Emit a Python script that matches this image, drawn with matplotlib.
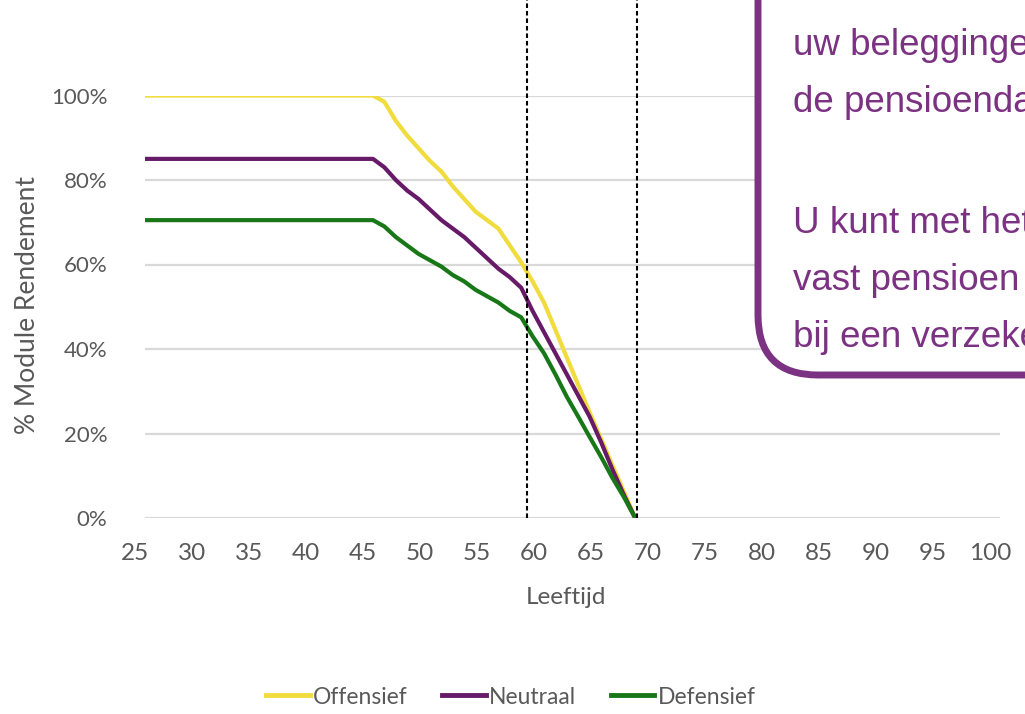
import numpy as np
import matplotlib
matplotlib.use("Agg")
import matplotlib.pyplot as plt
from matplotlib.patches import FancyBboxPatch
from matplotlib.lines import Line2D
import matplotlib.transforms as mtransforms

# Data (age -> % module rendement)
ages = list(range(25, 69))
flat_years = 45 - 25  # 25..44 all at the plateau value

offensief = [100] * flat_years + [100, 98.5, 94, 90.5, 87.5, 84.5, 82, 78.5, 75.5, 72.5, 70.5, 68.5,
                                  64.5, 60.5, 56, 51, 44.5, 38, 31.5, 25, 18.8, 12.5, 6.3, 0]
neutraal = [85] * flat_years + [85, 83, 80, 77.5, 75.5, 73, 70.5, 68.5, 66.5, 64, 61.5, 59,
                                57, 54.5, 49, 44, 39, 34, 29, 24, 18, 11.5, 5.5, 0]
defensief = [70.5] * flat_years + [70.5, 69, 66.5, 64.5, 62.5, 61, 59.5, 57.5, 56, 54, 52.5, 51,
                                   49, 47.5, 43, 39, 34, 28.7, 24, 19.2, 14.5, 9.5, 5, 0]

series_names = ["Offensief", "Neutraal", "Defensief"]
series_colors = ["#f0dc3c", "#661a68", "#187818"]

x_ticks = list(range(25, 101, 5))
y_ticks = [0, 20, 40, 60, 80, 100]
marker_ages = [58.5, 68.2]

box_lines = ["uw beleggingen", "de pensioendatum", "U kunt met het", "vast pensioen", "bij een verzekeraar"]
box_baselines = [55, 112, 233, 290, 347]

W, H = 1025, 714
plt.rcParams["font.family"] = ["Lato", "DejaVu Sans"]
grey = "#595959"
purple = "#7b3282"

fig = plt.figure(figsize=(W / 100, H / 100), dpi=100)
ax = fig.add_axes([145 / W, 1 - 518 / H, 855 / W, 422.5 / H])

for vals, name, col in zip([offensief, neutraal, defensief], series_names, series_colors):
    ax.plot(ages, vals, color=col, lw=3, label=name, solid_capstyle="butt", zorder=3)

for a in marker_ages:
    ax.axvline(a, ymin=0, ymax=518 / 422.5, clip_on=False, color="black", lw=1.5,
               dashes=(2.2, 1.4), zorder=4)

ax.set_xlim(25, 100)
ax.set_ylim(0, 100)
ax.set_xticks(x_ticks)
ax.set_yticks(y_ticks)
ax.set_yticklabels([f"{v}%" for v in y_ticks])
ax.grid(axis="y", color="#d9d9d9", lw=1.6)
ax.set_axisbelow(True)
for s in ax.spines.values():
    s.set_visible(False)
ax.tick_params(axis="both", length=0, labelcolor=grey)
ax.tick_params(axis="y", pad=27, labelsize=16)
ax.tick_params(axis="x", pad=18, labelsize=17.5)
shift = mtransforms.ScaledTranslation(-10 / 100, 0, fig.dpi_scale_trans)
for lbl in ax.get_xticklabels():
    lbl.set_transform(lbl.get_transform() + shift)

fig.text(566 / W, 1 - 598 / H, "Leeftijd", ha="center", va="center", fontsize=17.5, color=grey)
fig.text(28 / W, 1 - 305 / H, "% Module Rendement", ha="center", va="center", rotation=90,
         fontsize=19, color=grey)

handles = [Line2D([], [], color=c, lw=3.5) for c in series_colors]
fig.legend(handles, series_names, loc="center", bbox_to_anchor=(511 / W, 1 - 697 / H), ncol=3,
           frameon=False, fontsize=16.5, labelcolor=grey, handlelength=1.9, handletextpad=0.15,
           columnspacing=1.5)

# overlay in pixel coordinates for the rounded text box
ov = fig.add_axes([0, 0, 1, 1], zorder=10)
ov.set_xlim(0, W)
ov.set_ylim(H, 0)
ov.axis("off")
ov.patch.set_alpha(0)
box = FancyBboxPatch((758, -80), 420, 455, boxstyle="round,pad=0,rounding_size=60",
                     lw=5, ec=purple, fc="white", clip_on=False)
ov.add_patch(box)
for txt, yb in zip(box_lines, box_baselines):
    ov.text(793, yb, txt, color=purple, fontsize=26.5, family="Liberation Sans",
            va="baseline", ha="left")

fig.savefig("out.png", dpi=100)
